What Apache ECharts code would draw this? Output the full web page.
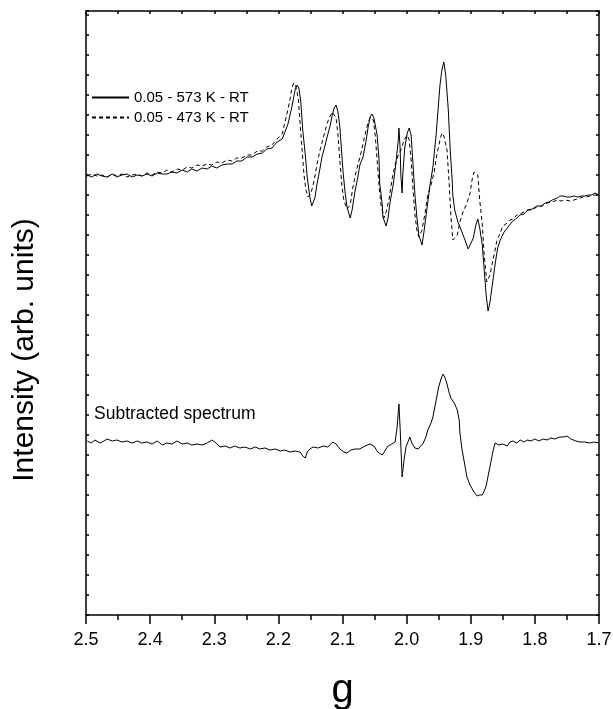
<!DOCTYPE html>
<html>
<head>
<meta charset="utf-8">
<script src="https://cdn.jsdelivr.net/npm/echarts@6/dist/echarts.min.js"></script>
<style>
  html, body { margin: 0; padding: 0; background: #fff; }
  #chart { width: 613px; height: 709px; }
</style>
</head>
<body>
<div id="chart"></div>
<script>
// g 值 (横轴, 反向) 与强度 (任意单位)
const xTickLabels = ['2.5', '2.4', '2.3', '2.2', '2.1', '2.0', '1.9', '1.8', '1.7'];
const legendNames = ['0.05 - 573 K - RT', '0.05 - 473 K - RT'];

// 0.05 - 573 K - RT (实线)
const spec573 = [
  [2.498, 440], [2.491, 438], [2.483, 441], [2.475, 439], [2.467, 438], [2.459, 441],
  [2.452, 438], [2.444, 440], [2.436, 441], [2.428, 438], [2.420, 440], [2.413, 439],
  [2.405, 441], [2.397, 439], [2.389, 442], [2.381, 441], [2.374, 441], [2.366, 443],
  [2.358, 442], [2.350, 445], [2.342, 443], [2.335, 446], [2.327, 444], [2.319, 447],
  [2.311, 446], [2.304, 449], [2.296, 447], [2.288, 450], [2.280, 451], [2.272, 451],
  [2.265, 454], [2.257, 454], [2.249, 458], [2.241, 458], [2.233, 461], [2.225, 462],
  [2.218, 466], [2.210, 467], [2.202, 473], [2.194, 476],
  [2.185, 491], [2.179, 508], [2.174, 525], [2.171, 530], [2.168, 527], [2.165, 513],
  [2.162, 485], [2.158, 460], [2.155, 438], [2.151, 418], [2.148, 409], [2.143, 417],
  [2.140, 430], [2.135, 447], [2.132, 458], [2.127, 470], [2.124, 478], [2.119, 490],
  [2.116, 500], [2.113, 507], [2.110, 510], [2.107, 503], [2.104, 487], [2.101, 460],
  [2.099, 442], [2.096, 423], [2.093, 408], [2.088, 397], [2.085, 405], [2.081, 422],
  [2.076, 438], [2.073, 450], [2.068, 458], [2.063, 475], [2.060, 488], [2.057, 498],
  [2.054, 501], [2.051, 497], [2.046, 480], [2.043, 455], [2.042, 432], [2.038, 410],
  [2.037, 398], [2.032, 389], [2.029, 397], [2.026, 412], [2.021, 430], [2.017, 450],
  [2.013, 475], [2.012, 487], [2.010, 465], [2.009, 440], [2.007, 422], [2.006, 440],
  [2.003, 467], [1.999, 482], [1.996, 487], [1.993, 480], [1.990, 450], [1.987, 420],
  [1.984, 398], [1.981, 380], [1.976, 370], [1.973, 383], [1.968, 408], [1.964, 428],
  [1.959, 448], [1.954, 480], [1.951, 505], [1.948, 530], [1.945, 545], [1.942, 553],
  [1.939, 540], [1.935, 505], [1.932, 465], [1.929, 435], [1.928, 420], [1.925, 405],
  [1.920, 393], [1.915, 385], [1.909, 375], [1.904, 366], [1.901, 370], [1.896, 377],
  [1.892, 390], [1.889, 396], [1.886, 387], [1.882, 370], [1.879, 345], [1.876, 320],
  [1.873, 304], [1.870, 313], [1.867, 327], [1.862, 351], [1.858, 367], [1.854, 375],
  [1.848, 383], [1.843, 387], [1.836, 393], [1.830, 396], [1.823, 400], [1.817, 401],
  [1.811, 405], [1.804, 406], [1.797, 409], [1.790, 409], [1.784, 412], [1.778, 413],
  [1.773, 415], [1.769, 416], [1.765, 417], [1.761, 419], [1.756, 419], [1.750, 418],
  [1.745, 418], [1.739, 419], [1.733, 418], [1.727, 419], [1.722, 419], [1.716, 420],
  [1.712, 420], [1.706, 422], [1.700, 420]
];

// 0.05 - 473 K - RT (虚线)
const spec473 = [
  [2.498, 439], [2.491, 441], [2.483, 439], [2.475, 440], [2.467, 438], [2.459, 441],
  [2.452, 439], [2.444, 441], [2.436, 438], [2.428, 440], [2.420, 441], [2.413, 439],
  [2.405, 442], [2.397, 440], [2.389, 443], [2.381, 442], [2.374, 445], [2.366, 443],
  [2.358, 446], [2.350, 445], [2.342, 448], [2.335, 447], [2.327, 450], [2.319, 449],
  [2.311, 451], [2.304, 450], [2.296, 453], [2.288, 452], [2.280, 455], [2.272, 454],
  [2.265, 457], [2.257, 457], [2.249, 460], [2.241, 460], [2.233, 464], [2.225, 464],
  [2.218, 468], [2.210, 470], [2.202, 476], [2.194, 481],
  [2.187, 500], [2.182, 515], [2.179, 527], [2.176, 532], [2.173, 529], [2.169, 517],
  [2.166, 490], [2.163, 465], [2.160, 440], [2.157, 425], [2.154, 418], [2.149, 422],
  [2.144, 435], [2.140, 450], [2.135, 465], [2.130, 477], [2.126, 487], [2.121, 497],
  [2.116, 503], [2.113, 503], [2.110, 497], [2.107, 480], [2.104, 453], [2.101, 430],
  [2.098, 415], [2.093, 406], [2.088, 410], [2.084, 427], [2.079, 443], [2.074, 455],
  [2.070, 465], [2.065, 480], [2.060, 493], [2.056, 498], [2.052, 495], [2.049, 480],
  [2.046, 455], [2.043, 430], [2.040, 410], [2.035, 397], [2.032, 403], [2.027, 417],
  [2.023, 435], [2.018, 450], [2.013, 460], [2.009, 465], [2.004, 475], [1.999, 480],
  [1.996, 475], [1.993, 455], [1.990, 425], [1.987, 400], [1.984, 385], [1.981, 378],
  [1.976, 385], [1.971, 403], [1.967, 420], [1.962, 430], [1.957, 443], [1.953, 460],
  [1.948, 475], [1.945, 482], [1.942, 479], [1.937, 465], [1.934, 435], [1.931, 400],
  [1.928, 375], [1.925, 373], [1.921, 380], [1.917, 393], [1.912, 403], [1.906, 412],
  [1.901, 422], [1.898, 435], [1.895, 443], [1.892, 445], [1.889, 440], [1.886, 415],
  [1.882, 390], [1.879, 360], [1.875, 333], [1.870, 340], [1.867, 350], [1.862, 365],
  [1.859, 375], [1.854, 382], [1.850, 389], [1.845, 391], [1.839, 395], [1.834, 396],
  [1.828, 400], [1.820, 402], [1.812, 405], [1.805, 405], [1.797, 408], [1.789, 409],
  [1.781, 412], [1.773, 413], [1.765, 415], [1.759, 414], [1.753, 415], [1.745, 414],
  [1.739, 415], [1.734, 416], [1.725, 418], [1.720, 418], [1.714, 419], [1.706, 420],
  [1.700, 420]
];

// Subtracted spectrum (差谱)
const specDiff = [
  [2.498, 174], [2.492, 172], [2.486, 175], [2.478, 172], [2.472, 174], [2.467, 176],
  [2.459, 174], [2.452, 175], [2.444, 173], [2.436, 174], [2.428, 172], [2.420, 174],
  [2.413, 172], [2.405, 173], [2.397, 171], [2.389, 174], [2.381, 170], [2.374, 172],
  [2.366, 171], [2.358, 174], [2.350, 171], [2.342, 172], [2.335, 170], [2.327, 171],
  [2.319, 170], [2.311, 172], [2.304, 175], [2.299, 173], [2.291, 168], [2.283, 169],
  [2.275, 167], [2.268, 169], [2.260, 167], [2.252, 168], [2.244, 166], [2.236, 168],
  [2.229, 166], [2.221, 167], [2.213, 165], [2.205, 166], [2.197, 164], [2.190, 165],
  [2.182, 163], [2.174, 164], [2.166, 163], [2.162, 159], [2.158, 157], [2.155, 163],
  [2.151, 166], [2.146, 168], [2.138, 167], [2.130, 169], [2.123, 168], [2.115, 173],
  [2.110, 171], [2.104, 166], [2.098, 163], [2.093, 162], [2.087, 165], [2.081, 166],
  [2.073, 166], [2.065, 169], [2.057, 171], [2.051, 169], [2.045, 163], [2.038, 160],
  [2.034, 164], [2.029, 169], [2.023, 171], [2.018, 173], [2.015, 187], [2.012, 211],
  [2.010, 185], [2.007, 138], [2.004, 155], [2.001, 168], [1.998, 173], [1.995, 178],
  [1.992, 172], [1.987, 167], [1.982, 166], [1.979, 164], [1.974, 172], [1.970, 178],
  [1.967, 185], [1.962, 192], [1.959, 198], [1.956, 208], [1.953, 218], [1.950, 228],
  [1.946, 237], [1.943, 241], [1.940, 237], [1.937, 231], [1.934, 223], [1.931, 217],
  [1.928, 215], [1.925, 211], [1.921, 205], [1.918, 195], [1.917, 183], [1.914, 167],
  [1.909, 149], [1.906, 138], [1.901, 130], [1.898, 128], [1.895, 123], [1.890, 119],
  [1.886, 120], [1.882, 120], [1.879, 124], [1.876, 129], [1.873, 139], [1.868, 155],
  [1.865, 165], [1.862, 172], [1.856, 170], [1.850, 171], [1.843, 169], [1.839, 173],
  [1.834, 174], [1.828, 172], [1.823, 175], [1.817, 173], [1.812, 175], [1.806, 174],
  [1.800, 176], [1.794, 174], [1.787, 176], [1.781, 175], [1.775, 177], [1.769, 176],
  [1.761, 178], [1.755, 178], [1.750, 179], [1.744, 176], [1.736, 174], [1.730, 173],
  [1.722, 173], [1.714, 172], [1.708, 173], [1.700, 172]
];

const fontFamily = 'Liberation Sans, Arial, Helvetica, sans-serif';
const chart = echarts.init(document.getElementById('chart'), null, { renderer: 'canvas' });

const lineSeries = (name, data, type) => ({
  name: name,
  type: 'line',
  data: data,
  symbol: 'none',
  showSymbol: false,
  xAxisIndex: 0,
  yAxisIndex: 0,
  silent: true,
  animation: false,
  lineStyle: { color: '#000', width: 1, type: type },
  itemStyle: { color: '#000' }
});

const frameLine = { show: true, onZero: false, lineStyle: { color: '#000', width: 1.5 } };

const option = {
  backgroundColor: '#fff',
  animation: false,
  textStyle: { fontFamily: fontFamily },
  title: {
    text: 'Subtracted spectrum',
    left: 94,
    top: 405,
    padding: 0,
    textStyle: { fontSize: 17.5, fontWeight: 'normal', color: '#000', fontFamily: fontFamily }
  },
  legend: {
    data: legendNames,
    orient: 'vertical',
    left: 91,
    top: 90,
    padding: 0,
    itemWidth: 37,
    itemHeight: 14,
    itemGap: 5,
    itemStyle: { opacity: 0 },
    textStyle: { fontSize: 15, color: '#000', fontFamily: fontFamily }
  },
  // v6: 不让坐标轴名称挤压绘图区
  grid: { left: 86, right: 14, top: 11, bottom: 94, containLabel: false, outerBoundsMode: 'none' },
  xAxis: [
    {
      type: 'value',
      position: 'bottom',
      inverse: true,
      min: 1.7,
      max: 2.5,
      interval: 0.1,
      name: 'g',
      nameLocation: 'middle',
      nameGap: 56,
      nameTextStyle: { fontSize: 40, color: '#000', fontFamily: fontFamily },
      axisLine: frameLine,
      axisTick: { show: true, inside: false, length: 9, lineStyle: { color: '#000', width: 1.5 } },
      minorTick: { show: true, splitNumber: 2, length: 5, lineStyle: { color: '#000', width: 1.5 } },
      axisLabel: {
        margin: 16,
        fontSize: 18,
        color: '#000',
        fontFamily: fontFamily,
        formatter: (v) => xTickLabels.find(t => Math.abs(parseFloat(t) - v) < 1e-6) || v.toFixed(1)
      },
      splitLine: { show: false }
    },
    {
      type: 'value',
      position: 'top',
      inverse: true,
      min: 1.7,
      max: 2.5,
      interval: 0.05,
      axisLine: frameLine,
      axisTick: { show: true, inside: true, length: 3, lineStyle: { color: '#000', width: 1.5 } },
      axisLabel: { show: false },
      splitLine: { show: false }
    }
  ],
  yAxis: [
    {
      type: 'value',
      position: 'left',
      min: 0,
      max: 604,
      interval: 20,
      name: 'Intensity (arb. units)',
      nameLocation: 'middle',
      nameRotate: 90,
      nameGap: 46,
      nameTextStyle: { fontSize: 30, color: '#000', fontFamily: fontFamily, padding: [0, 74, 0, 0] },
      axisLine: frameLine,
      axisTick: { show: true, inside: true, length: 3, lineStyle: { color: '#000', width: 1.5 } },
      axisLabel: { show: false },
      splitLine: { show: false }
    },
    {
      type: 'value',
      position: 'right',
      min: 0,
      max: 604,
      interval: 20,
      axisLine: frameLine,
      axisTick: { show: true, inside: true, length: 3, lineStyle: { color: '#000', width: 1.5 } },
      axisLabel: { show: false },
      splitLine: { show: false }
    }
  ],
  series: [
    lineSeries(legendNames[0], spec573, 'solid'),
    lineSeries(legendNames[1], spec473, [4, 3]),
    lineSeries('Subtracted spectrum', specDiff, 'solid')
  ]
};

chart.setOption(option);
</script>
</body>
</html>
